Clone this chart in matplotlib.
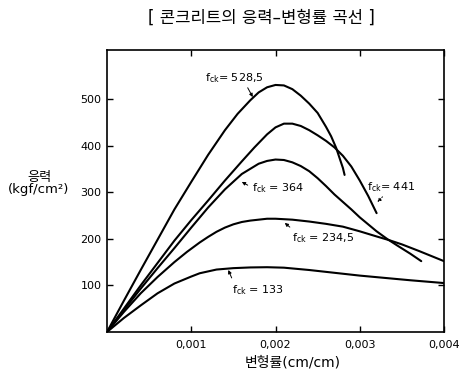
import numpy as np
import matplotlib
matplotlib.use("Agg")
import matplotlib.pyplot as plt

plt.rcParams['font.family'] = ['DejaVu Sans', 'Noto Sans CJK KR']
plt.rcParams['mathtext.fontset'] = 'dejavusans'

# ---- data (strain in units of 1e-3, stress in kgf/cm2) ----
strain_5285 = [0, 0.2, 0.4, 0.6, 0.8, 1.0, 1.2, 1.4, 1.55, 1.7, 1.8, 1.9, 2.0, 2.1, 2.2, 2.3, 2.4,
               2.5, 2.6, 2.66, 2.72, 2.77, 2.8, 2.82]
stress_5285 = [0, 67, 133, 198, 263, 322, 380, 433, 468, 497, 514, 525, 530, 529, 521, 507, 490,
               470, 440, 420, 395, 368, 352, 337]

strain_441 = [0, 0.2, 0.4, 0.6, 0.8, 1.0, 1.2, 1.4, 1.6, 1.75, 1.9, 2.0, 2.1, 2.2, 2.3, 2.4, 2.5,
              2.6, 2.7, 2.8, 2.9, 3.0, 3.1, 3.2]
stress_441 = [0, 50, 100, 148, 196, 240, 282, 325, 366, 396, 424, 439, 447, 447, 442, 433, 422,
              410, 396, 378, 355, 325, 292, 255]

strain_364 = [0, 0.2, 0.4, 0.6, 0.8, 1.0, 1.2, 1.4, 1.6, 1.8, 1.9, 2.0, 2.1, 2.2, 2.3, 2.4, 2.5,
              2.6, 2.7, 2.8, 2.9, 3.0, 3.1, 3.2, 3.33, 3.45, 3.6, 3.73]
stress_364 = [0, 47, 93, 137, 180, 224, 267, 306, 339, 361, 367, 370, 369, 364, 356, 345, 330,
              313, 295, 279, 263, 246, 231, 216, 199, 185, 168, 152]

strain_2345 = [0, 0.2, 0.4, 0.6, 0.8, 0.95, 1.1, 1.2, 1.3, 1.4, 1.5, 1.6, 1.7, 1.8, 1.9, 2.0, 2.2,
               2.4, 2.6, 2.8, 3.0, 3.2, 3.35, 3.5, 3.7, 3.85, 4.0]
stress_2345 = [0, 43, 83, 118, 150, 172, 192, 204, 215, 224, 231, 236, 239, 241, 243, 243, 241,
               237, 232, 226, 216, 205, 197, 188, 174, 163, 152]

strain_133 = [0, 0.2, 0.4, 0.6, 0.8, 1.0, 1.1, 1.2, 1.3, 1.5, 1.7, 1.9, 2.1, 2.4, 2.7, 3.0, 3.3,
              3.6, 4.0]
stress_133 = [0, 30, 57, 83, 104, 119, 126, 130, 134, 137, 138.5, 139, 138, 133, 127, 121, 116,
              111, 105]

x_ticks = [0.001, 0.002, 0.003, 0.004]
x_tick_labels = ['0,001', '0,002', '0,003', '0,004']
y_ticks = [100, 200, 300, 400, 500]
y_tick_labels = ['100', '200', '300', '400', '500']

series = [
    (strain_5285, stress_5285),
    (strain_441, stress_441),
    (strain_364, stress_364),
    (strain_2345, stress_2345),
    (strain_133, stress_133),
]

W, H = 466, 385
fig = plt.figure(figsize=(W / 100, H / 100), dpi=100)
fig.patch.set_facecolor('white')
ax = fig.add_axes([107 / W, 1 - 332 / H, (444 - 107) / W, (332 - 50) / H])

for xs, ys in series:
    ax.plot(np.array(xs) * 1e-3, ys, color='black', lw=1.5, solid_capstyle='round',
            solid_joinstyle='round')

ax.set_xlim(0, 0.004)
ax.set_ylim(0, 605)
ax.set_xticks(x_ticks)
ax.set_xticklabels(x_tick_labels, fontsize=8)
ax.set_yticks(y_ticks)
ax.set_yticklabels(y_tick_labels, fontsize=8)
ax.tick_params(direction='in', length=4, width=1, top=True, right=True)
ax.tick_params(axis='x', pad=6)
ax.tick_params(axis='y', pad=4)
for s in ax.spines.values():
    s.set_linewidth(1.2)

# curve labels
def lab(txt, x, y, tail, head, dotted=False):
    ax.text(x * 1e-3, y, txt, fontsize=8, va='baseline', ha='left')
    ax.annotate('', xy=(head[0] * 1e-3, head[1]), xytext=(tail[0] * 1e-3, tail[1]),
                arrowprops=dict(arrowstyle='-|>', lw=0.7, color='black',
                                mutation_scale=5, shrinkA=0, shrinkB=0,
                                linestyle=':' if dotted else '-'))

lab(r'$\mathregular{f_{ck}}$= 528,5', 1.16, 539, (1.67, 524), (1.73, 504))
lab(r'$\mathregular{f_{ck}}$ = 364', 1.72, 302, (1.67, 315), (1.60, 322))
lab(r'$\mathregular{f_{ck}}$= 441', 3.09, 305, (3.27, 290), (3.21, 279), dotted=True)
lab(r'$\mathregular{f_{ck}}$ = 234,5', 2.20, 194, (2.17, 225), (2.11, 234))
lab(r'$\mathregular{f_{ck}}$ = 133', 1.48, 84, (1.48, 116), (1.44, 133))

# titles / axis labels
fig.text(261 / W, 1 - 18 / H, '[ 콘크리트의 응력–변형률 곡선 ]', fontsize=12,
         ha='center', va='center')
fig.text(39 / W, 1 - 177 / H, '응력', fontsize=9.5, ha='center', va='center')
fig.text(39 / W, 1 - 190 / H, '(kgf/cm²)', fontsize=9.5, ha='center', va='center')
fig.text(293 / W, 1 - 363 / H, '변형률(cm/cm)', fontsize=10, ha='center', va='center')

fig.savefig('out.png', dpi=100, facecolor='white')
